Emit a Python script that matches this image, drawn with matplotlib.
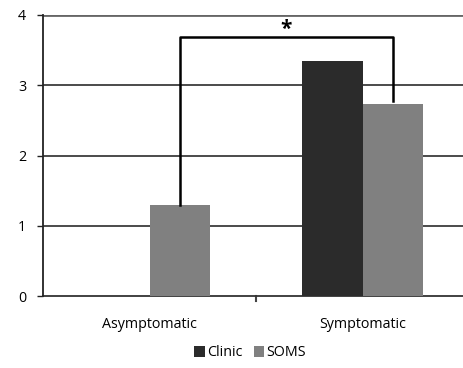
import matplotlib.pyplot as plt
import numpy as np

plt.rcParams['font.family'] = ['Open Sans', 'DejaVu Sans']

# groups and series values
groups = ['Asymptomatic', 'Symptomatic']
clinic = [np.nan, 3.35]
soms = [1.30, 2.74]
series_names = ['Clinic', 'SOMS']
series_colors = ['#2b2b2b', '#808080']
y_ticks = [0, 1, 2, 3, 4]

fig = plt.figure(figsize=(4.64, 3.68), dpi=100)
ax = fig.add_axes([43 / 464, 72 / 368, 426 / 464, 281 / 368])

x = np.arange(len(groups))
w = 0.286
ax.bar(x - w / 2, clinic, w, color=series_colors[0], label=series_names[0], zorder=3)
ax.bar(x + w / 2, soms, w, color=series_colors[1], label=series_names[1], zorder=3)

ax.set_xlim(-0.5, 1.5)
ax.set_ylim(0, 4)
ax.set_yticks(y_ticks)
ax.set_xticks(x)
ax.set_xticklabels(groups, fontsize=10.3)
ax.tick_params(axis='x', length=0, pad=15)
ax.tick_params(axis='y', direction='out', length=4, width=1, color='#222222',
               labelsize=10.3, pad=8)
for v in y_ticks[1:]:
    ax.axhline(v, color='#1a1a1a', lw=1.1, zorder=1)
ax.axhline(4, color='#666666', lw=2, zorder=2)
ax.plot([0.5, 0.5], [0, -0.07], color='#444444', lw=1.5, clip_on=False)

for side in ['top', 'right']:
    ax.spines[side].set_visible(False)
ax.spines['left'].set_color('#222222')
ax.spines['left'].set_linewidth(1.3)
ax.spines['bottom'].set_color('#333333')
ax.spines['bottom'].set_linewidth(1.3)
ax.spines['left'].set_zorder(4)

# significance bracket between the two SOMS bars
xa = x[0] + w / 2
xb = x[1] + w / 2
top = 3.69
ax.plot([xa, xa, xb, xb], [soms[0], top, top, soms[1] + 0.03],
        color='black', lw=1.8, zorder=4)
ax.text((xa + xb) / 2, 3.80, '*', ha='center', va='center',
        fontsize=15, fontweight='bold')

handles, labels = ax.get_legend_handles_labels()
fig.legend(handles, labels, loc='center', bbox_to_anchor=(250 / 464, 1 - 353 / 368),
           ncol=2, frameon=False, fontsize=10.3, handlelength=0.75, handleheight=0.75,
           handletextpad=0.15, columnspacing=0.8)

fig.savefig('out.png', dpi=100)
